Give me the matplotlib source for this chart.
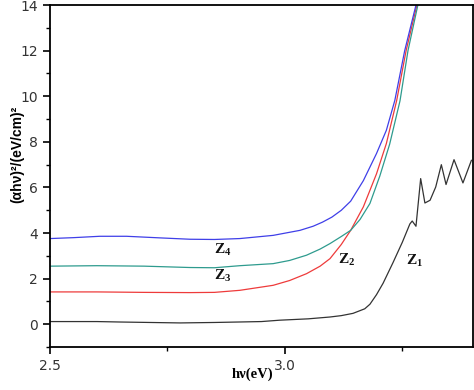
import matplotlib.pyplot as plt
from matplotlib.ticker import MultipleLocator

# Z1 (black)
z1_x = [2.5, 2.6, 2.65, 2.777, 2.85, 2.95, 2.989, 3.05, 3.096, 3.12, 3.145, 3.17, 3.181,
        3.195, 3.209, 3.23, 3.25, 3.266, 3.271, 3.279, 3.289, 3.298, 3.309, 3.321, 3.333,
        3.343, 3.36, 3.379, 3.397]
z1_y = [0.12, 0.12, 0.1, 0.06, 0.08, 0.12, 0.18, 0.24, 0.32, 0.38, 0.48, 0.68, 0.88,
        1.3, 1.8, 2.7, 3.6, 4.4, 4.53, 4.3, 6.39, 5.32, 5.44, 6.02, 7.0,
        6.13, 7.22, 6.2, 7.19]

# Z2 (red)
z2_x = [2.5, 2.6, 2.7, 2.798, 2.85, 2.904, 2.975, 3.01, 3.046, 3.075, 3.096, 3.12,
        3.14, 3.167, 3.195, 3.216, 3.238, 3.258, 3.281]
z2_y = [1.42, 1.42, 1.4, 1.39, 1.4, 1.49, 1.71, 1.92, 2.22, 2.55, 2.88, 3.5,
        4.12, 5.15, 6.6, 7.93, 9.82, 12.0, 14.0]

# Z3 (teal)
z3_x = [2.5, 2.6, 2.7, 2.798, 2.85, 2.904, 2.975, 3.01, 3.046, 3.075, 3.096, 3.12,
        3.14, 3.16, 3.181, 3.202, 3.223, 3.245, 3.262, 3.283]
z3_y = [2.55, 2.57, 2.55, 2.49, 2.48, 2.57, 2.66, 2.8, 3.03, 3.3, 3.54, 3.85,
        4.12, 4.6, 5.3, 6.5, 7.9, 9.8, 12.0, 14.0]

# Z4 (blue)
z4_x = [2.5, 2.55, 2.606, 2.663, 2.734, 2.798, 2.85, 2.904, 2.975, 3.032, 3.06,
        3.08, 3.1, 3.12, 3.14, 3.167, 3.195, 3.216, 3.234, 3.255, 3.279]
z4_y = [3.76, 3.8, 3.86, 3.86, 3.79, 3.73, 3.72, 3.76, 3.9, 4.12, 4.3,
        4.48, 4.7, 5.0, 5.4, 6.3, 7.49, 8.51, 9.82, 12.0, 14.0]

labels = [("1", 3.258, 2.6), ("2", 3.112, 2.66), ("3", 2.85, 1.93), ("4", 2.85, 3.1)]

plt.rcParams["mathtext.fontset"] = "custom"
plt.rcParams["mathtext.rm"] = "Liberation Serif:bold"

fig = plt.figure(figsize=(4.74, 3.9), dpi=100)
ax = fig.add_axes([0.1055, 0.11, 0.892, 0.877])

ax.plot(z1_x, z1_y, color="#333333", lw=0.9)
ax.plot(z2_x, z2_y, color="#ee3b3b", lw=0.9)
ax.plot(z3_x, z3_y, color="#2e9b8e", lw=0.9)
ax.plot(z4_x, z4_y, color="#3f3fe8", lw=0.9)

# подписи кривых Z1..Z4
for sub, tx, ty in labels:
    ax.text(tx, ty, r"$\mathrm{Z_{%s}}$" % sub, fontsize=11, color="#111111")

ax.set_xlim(2.5, 3.4)
ax.set_ylim(-1, 14)
ax.xaxis.set_major_locator(MultipleLocator(0.5))
ax.xaxis.set_minor_locator(MultipleLocator(0.25))
ax.yaxis.set_major_locator(MultipleLocator(2))
ax.yaxis.set_minor_locator(MultipleLocator(1))
ax.xaxis.set_major_formatter(plt.FormatStrFormatter("%.1f"))
ax.tick_params(which="major", direction="out", length=5, width=1.2,
               labelsize=10, labelcolor="#333333")
ax.tick_params(which="minor", direction="out", length=3, width=1.0)
for sp in ax.spines.values():
    sp.set_linewidth(1.3)

ax.set_xlabel("hν(eV)", fontfamily="Liberation Serif", fontweight="bold",
              fontsize=10.5)
ax.xaxis.set_label_coords(0.478, -0.06)
ax.set_ylabel("(αhν)²/(eV/cm)²", fontfamily="Liberation Sans",
              fontweight="bold", fontsize=10)
ax.yaxis.set_label_coords(-0.062, 0.563)

fig.savefig("out.png", dpi=100)
